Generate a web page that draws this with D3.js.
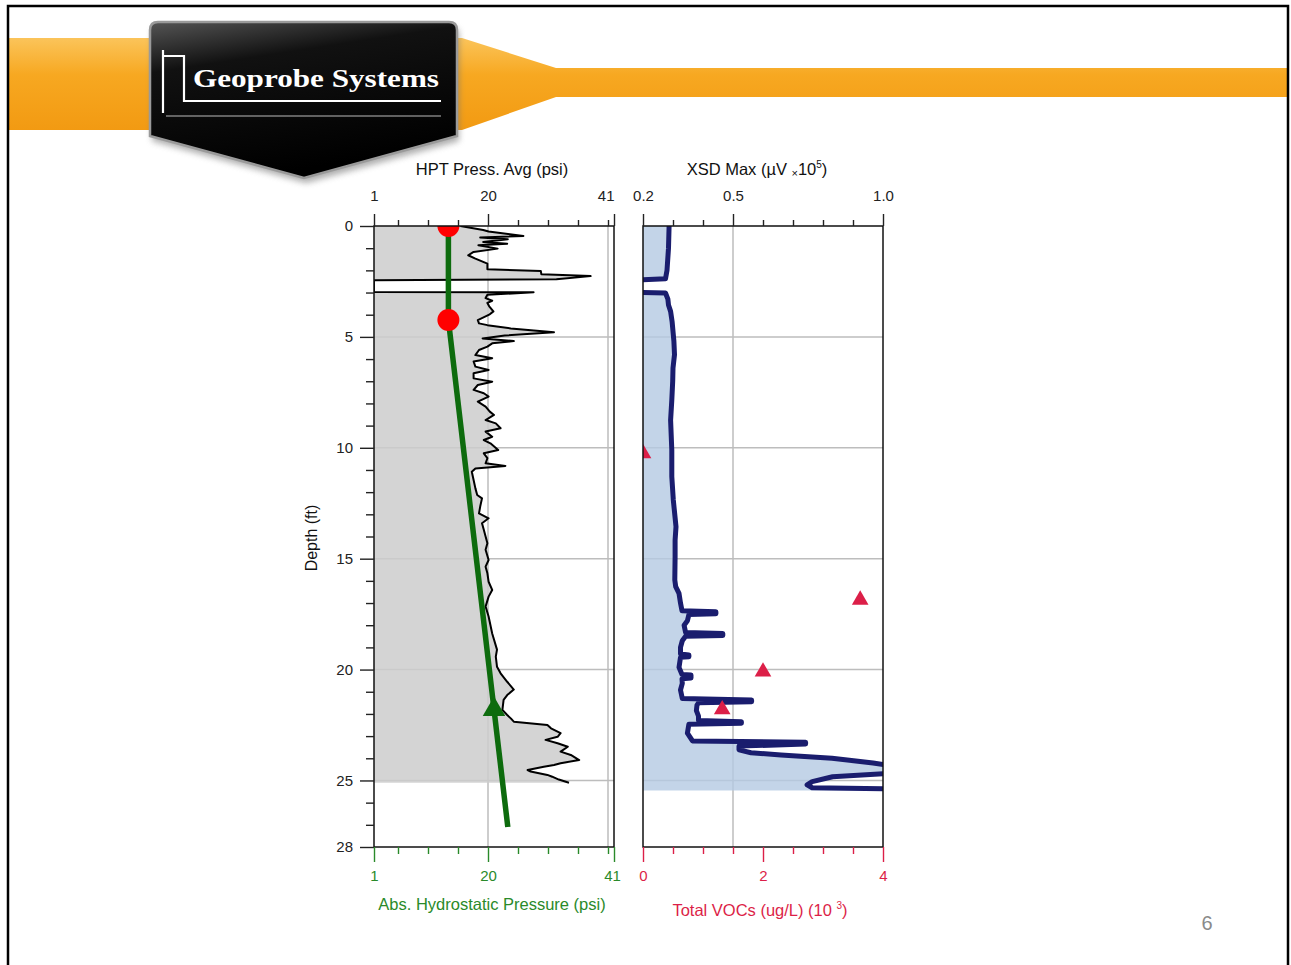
<!DOCTYPE html>
<html>
<head>
<meta charset="utf-8">
<script src="https://cdn.jsdelivr.net/npm/d3@7/dist/d3.min.js"></script>
<style>
  body { margin: 0; background: #fff; }
  svg { display: block; font-family: "Liberation Sans", Arial, sans-serif; }
</style>
</head>
<body>
<svg></svg>
<script>
/*
 */
// HPT pressure log (depth ft, psi); value 1 = no data
const HPT_DEPTH = [0, 0.18, 0.25, 0.45, 0.52, 0.60, 0.72, 0.80, 0.87, 1.02,
  1.17, 1.32, 1.47, 1.70, 1.95, 2.03, 2.18, 2.26, 2.40, 2.45,
  2.98, 2.99, 3.10, 3.25, 3.37, 3.47, 3.62, 3.85, 4.00, 4.24,
  4.39, 4.47, 4.62, 4.79, 4.94, 5.07, 5.19, 5.29, 5.44, 5.59,
  5.82, 5.96, 6.11, 6.34, 6.49, 6.64, 6.87, 7.02, 7.17, 7.39,
  7.54, 7.69, 7.92, 8.14, 8.37, 8.52, 8.75, 8.90, 9.12, 9.27,
  9.50, 9.65, 9.80, 10.10, 10.25, 10.47, 10.70, 10.82, 10.93, 11.08,
  11.45, 11.83, 12.13, 12.28, 12.65, 12.96, 13.18, 13.40, 13.70, 14.00,
  14.30, 14.60, 15.06, 15.36, 15.66, 16.04, 16.41, 16.71, 17.16, 17.61,
  18.37, 19.10, 19.42, 19.87, 20.17, 20.55, 20.90, 21.15, 21.37, 21.82,
  22.05, 22.20, 22.35, 22.50, 22.65, 22.87, 23.03, 23.17, 23.32, 23.48,
  23.70, 23.85, 24.08, 24.22, 24.30, 24.38, 24.53, 24.60, 24.75, 24.83,
  24.96, 25.10];
const HPT_PRESS = [15.4, 19.2, 20.1, 25.9, 18.7, 23.3, 19.2, 23.2, 18.4, 21.6,
  17.6, 16.7, 17.9, 19.9, 19.9, 28.8, 28.9, 37.1, 31.4, 1,
  1, 27.6, 19.9, 19.6, 20.7, 19.9, 20.2, 20.9, 20.2, 18.3,
  18.5, 19.9, 23.8, 31.0, 22.8, 19.1, 24.3, 20.7, 19.9, 18.5,
  17.9, 20.7, 17.6, 17.9, 20.1, 17.6, 17.6, 20.7, 18.3, 17.6,
  19.3, 20.1, 18.3, 19.6, 20.3, 21.0, 19.6, 21.3, 22.1, 19.6,
  20.7, 19.3, 20.4, 21.7, 19.3, 19.9, 19.6, 22.9, 17.9, 17.3,
  17.6, 17.9, 18.2, 19.0, 18.7, 18.5, 20.1, 19.0, 19.3, 19.6,
  19.9, 19.6, 20.1, 19.6, 19.9, 20.1, 20.7, 20.1, 19.6, 20.1,
  20.7, 21.5, 21.3, 21.5, 22.1, 23.2, 24.3, 23.2, 22.6, 22.4,
  23.2, 23.8, 24.3, 29.9, 30.5, 32.1, 31.6, 29.6, 31.6, 33.3,
  32.1, 33.8, 35.2, 32.1, 31.0, 29.3, 26.6, 27.1, 29.9, 30.7,
  31.8, 33.5];

// Absolute hydrostatic pressure line (psi)
const HYDRO_DEPTH = [0, 4.24, 27.1];
const HYDRO_PRESS = [13.4, 13.4, 23.3];
const WATER_DOTS_DEPTH = [0, 4.24];
const WATER_DOTS_PRESS = [13.4, 13.4];
const DISS_DEPTH = [21.8];
const DISS_PRESS = [21.0];

// XSD max (uV x 10^5)
const XSD_DEPTH = [0, 1.0, 2.0, 2.38, 2.43, 3.00, 3.02, 3.30, 3.56, 3.85,
  4.31, 5.20, 5.80, 6.40, 7.00, 7.85, 8.75, 10.10, 11.30, 12.35,
  13.56, 14.16, 14.90, 15.96, 16.26, 16.56, 17.00, 17.35, 17.39, 17.48,
  17.52, 17.80, 18.00, 18.33, 18.37, 18.46, 18.50, 18.70, 19.00, 19.30,
  19.34, 19.42, 19.45, 19.90, 20.22, 20.25, 20.38, 20.42, 20.62, 20.92,
  21.30, 21.37, 21.45, 21.50, 21.60, 21.85, 22.10, 22.30, 22.35, 22.42,
  22.46, 22.87, 23.22, 23.28, 23.36, 23.45, 23.62, 23.75, 23.85, 24.00,
  24.21, 24.38, 24.68, 24.83, 25.05, 25.20, 25.33, 25.38, 25.45];
const XSD_VALUE = [0.287, 0.285, 0.280, 0.275, 0.19, 0.19, 0.275, 0.283, 0.285, 0.292,
  0.297, 0.303, 0.305, 0.300, 0.299, 0.296, 0.292, 0.296, 0.296, 0.301,
  0.310, 0.307, 0.307, 0.306, 0.309, 0.320, 0.325, 0.330, 0.443, 0.443,
  0.353, 0.348, 0.337, 0.342, 0.466, 0.466, 0.342, 0.331, 0.325, 0.325,
  0.353, 0.353, 0.325, 0.320, 0.330, 0.360, 0.360, 0.330, 0.331, 0.325,
  0.331, 0.562, 0.562, 0.385, 0.380, 0.378, 0.385, 0.385, 0.528, 0.528,
  0.353, 0.348, 0.365, 0.742, 0.742, 0.520, 0.520, 0.560, 0.660, 0.830,
  0.967, 1.05, 1.02, 0.832, 0.764, 0.747, 0.764, 1.05, 1.05];

// Total VOC lab samples (ug/L x 10^3)
const VOC_DEPTH = [10.25, 16.86, 20.1, 21.8];
const VOC_VALUE = [0.0, 3.62, 2.0, 1.32];

// Axis ticks
const DEPTH_MAJOR = [0, 5, 10, 15, 20, 25, 28];
const PRESS_MAJOR = [1, 20, 41];
const PRESS_MINOR = [5, 10, 15, 25, 30, 35, 40];
const XSD_MAJOR = [0.2, 0.5, 1.0];
const XSD_MINOR = [0.3, 0.4, 0.6, 0.7, 0.8, 0.9];
const VOC_MAJOR = [0, 2, 4];
const VOC_MINOR = [0.5, 1, 1.5, 2.5, 3, 3.5];

/*
 * Layout constants
 */
const W = 1291;
const H = 965;
const PLOT_TOP = 226;
const PLOT_BOTTOM = 847;
const LEFT_X0 = 374;
const LEFT_X1 = 614;
const RIGHT_X0 = 643;
const RIGHT_X1 = 883;
const GREEN = "#0d6b0d";
const GREEN_TEXT = "#2a8a2a";
const VOC_RED = "#dc1f48";
const GRID = "#bdbdbd";
const TICK_FONT = 15;
const TITLE_FONT = 16.5;

const svg = d3.select("svg").attr("width", W).attr("height", H);
svg.selectAll("*").remove();
const defs = svg.append("defs");

const depthScale = d3.scaleLinear().domain([0, 28]).range([PLOT_TOP, PLOT_BOTTOM]);
const pressScale = d3.scaleLinear().domain([1, 41]).range([LEFT_X0, LEFT_X1]);
const xsdScale = d3.scaleLinear().domain([0.2, 1.0]).range([RIGHT_X0, RIGHT_X1]);
const vocScale = d3.scaleLinear().domain([0, 4]).range([RIGHT_X0, RIGHT_X1]);

/*
 * Slide background: frame, orange band, logo
 */
function drawSlide() {
  const band = defs.append("linearGradient").attr("id", "band")
    .attr("gradientUnits", "userSpaceOnUse")
    .attr("x1", 0).attr("y1", 38).attr("x2", 0).attr("y2", 130);
  band.append("stop").attr("offset", "0%").attr("stop-color", "#fbc45a");
  band.append("stop").attr("offset", "40%").attr("stop-color", "#f7a821");
  band.append("stop").attr("offset", "100%").attr("stop-color", "#f29a12");

  svg.append("path")
    .attr("d", "M8,38 L462,38 L556,68 L1289,68 L1289,97 L556,97 L462,130 L8,130 Z")
    .attr("fill", "url(#band)");

  // shield
  const shield = defs.append("linearGradient").attr("id", "shield")
    .attr("x1", 0).attr("y1", 0).attr("x2", 0.3).attr("y2", 1);
  shield.append("stop").attr("offset", "0%").attr("stop-color", "#555");
  shield.append("stop").attr("offset", "30%").attr("stop-color", "#111");
  shield.append("stop").attr("offset", "100%").attr("stop-color", "#000");

  const blur = defs.append("filter").attr("id", "shadow")
    .attr("x", "-10%").attr("y", "-10%").attr("width", "130%").attr("height", "130%");
  blur.append("feGaussianBlur").attr("stdDeviation", 3);

  const shieldPath = "M150,30 Q150,22 158,22 L449,22 Q457,22 457,30 L457,136 L304,178 L150,136 Z";
  svg.append("path")
    .attr("d", shieldPath)
    .attr("transform", "translate(2,5)")
    .attr("fill", "#777")
    .attr("opacity", 0.6)
    .attr("filter", "url(#shadow)");
  svg.append("path")
    .attr("d", shieldPath)
    .attr("fill", "url(#shield)")
    .attr("stroke", "#9a9a9a")
    .attr("stroke-width", 2.5);

  // logo mark + underline
  svg.append("path")
    .attr("d", "M163,113 L163,50 M163,56 L184,56 L184,101 L441,101")
    .attr("fill", "none")
    .attr("stroke", "#fff")
    .attr("stroke-width", 2.2);
  svg.append("path")
    .attr("d", "M166,116 L441,116")
    .attr("stroke", "#bbb")
    .attr("stroke-width", 1.2);

  svg.append("text")
    .attr("x", 193)
    .attr("y", 87)
    .attr("font-family", "'Liberation Serif', 'DejaVu Serif', serif")
    .attr("font-weight", "bold")
    .attr("font-size", 25)
    .attr("fill", "#fff")
    .attr("textLength", 246)
    .attr("lengthAdjust", "spacingAndGlyphs")
    .text("Geoprobe Systems");

  // page frame
  svg.append("rect")
    .attr("x", 8).attr("y", 6)
    .attr("width", 1280).attr("height", 1000)
    .attr("fill", "none")
    .attr("stroke", "#000")
    .attr("stroke-width", 2.5);

  // page number
  svg.append("text")
    .attr("x", 1207).attr("y", 930)
    .attr("text-anchor", "middle")
    .attr("font-size", 20)
    .attr("fill", "#8a8a8a")
    .text("6");
}

function clipFor(id, x0, x1) {
  defs.append("clipPath").attr("id", id)
    .append("rect")
    .attr("x", x0).attr("y", PLOT_TOP)
    .attr("width", x1 - x0).attr("height", PLOT_BOTTOM - PLOT_TOP);
  return `url(#${id})`;
}

function drawGrid(g, xs, x0, x1) {
  [5, 10, 15, 20, 25].forEach(d => {
    g.append("line")
      .attr("x1", x0).attr("x2", x1)
      .attr("y1", depthScale(d)).attr("y2", depthScale(d))
      .attr("stroke", GRID).attr("stroke-width", 1.5);
  });
  xs.forEach(x => {
    g.append("line")
      .attr("x1", x).attr("x2", x)
      .attr("y1", PLOT_TOP).attr("y2", PLOT_BOTTOM)
      .attr("stroke", GRID).attr("stroke-width", 1.5);
  });
}

function frame(x0, x1) {
  svg.append("rect")
    .attr("x", x0).attr("y", PLOT_TOP)
    .attr("width", x1 - x0).attr("height", PLOT_BOTTOM - PLOT_TOP)
    .attr("fill", "none")
    .attr("stroke", "#111")
    .attr("stroke-width", 1.5);
}

// axis helper: major (labelled) + minor ticks
function styledAxis(axisFn, scale, translate, major, minor, majorSize, minorSize, pad, color, fmt) {
  const gMinor = svg.append("g").attr("transform", translate)
    .call(axisFn(scale).tickValues(minor).tickSize(minorSize).tickFormat(""));
  const gMajor = svg.append("g").attr("transform", translate)
    .call(axisFn(scale).tickValues(major).tickSize(majorSize).tickPadding(pad).tickFormat(fmt));
  [gMinor, gMajor].forEach(g => {
    g.select(".domain").remove();
    g.selectAll(".tick line").attr("stroke", color).attr("stroke-width", 1.4);
    g.selectAll(".tick text")
      .attr("fill", color)
      .attr("font-size", TICK_FONT)
      .attr("font-family", "'Liberation Sans', Arial, sans-serif");
  });
  return gMajor;
}

/*
 * Left panel: HPT pressure + hydrostatic
 */
function drawLeftPanel() {
  const clip = clipFor("clipL", LEFT_X0, LEFT_X1);
  const g = svg.append("g");
  drawGrid(g, [pressScale(20), pressScale(40)], LEFT_X0, LEFT_X1);

  const pts = HPT_DEPTH.map((d, i) => ({ d: d, p: HPT_PRESS[i] }));

  const area = d3.area()
    .y(v => depthScale(v.d))
    .x0(pressScale(1))
    .x1(v => pressScale(v.p));
  svg.append("path")
    .datum(pts)
    .attr("clip-path", clip)
    .attr("d", area)
    .attr("fill", "#cccccc")
    .attr("fill-opacity", 0.85);

  const line = d3.line()
    .x(v => pressScale(v.p))
    .y(v => depthScale(v.d));
  svg.append("path")
    .datum(pts)
    .attr("clip-path", clip)
    .attr("d", line)
    .attr("fill", "none")
    .attr("stroke", "#000")
    .attr("stroke-width", 2)
    .attr("stroke-linejoin", "round");

  // hydrostatic line
  const hydro = HYDRO_DEPTH.map((d, i) => ({ d: d, p: HYDRO_PRESS[i] }));
  svg.append("path")
    .datum(hydro)
    .attr("clip-path", clip)
    .attr("d", line)
    .attr("fill", "none")
    .attr("stroke", GREEN)
    .attr("stroke-width", 5.5);

  svg.append("g").attr("clip-path", clip)
    .selectAll("circle")
    .data(WATER_DOTS_DEPTH)
    .join("circle")
    .attr("cx", (d, i) => pressScale(WATER_DOTS_PRESS[i]))
    .attr("cy", d => depthScale(d))
    .attr("r", 11)
    .attr("fill", "#ff0000");

  svg.append("g")
    .selectAll("path")
    .data(DISS_DEPTH)
    .join("path")
    .attr("transform", (d, i) => `translate(${pressScale(DISS_PRESS[i])},${depthScale(d)})`)
    .attr("d", d3.symbol(d3.symbolTriangle, 220))
    .attr("fill", GREEN);

  frame(LEFT_X0, LEFT_X1);

  // depth axis
  const depthMinor = d3.range(0, 29).filter(d => !DEPTH_MAJOR.includes(d));
  styledAxis(d3.axisLeft, depthScale, `translate(${LEFT_X0},0)`,
    DEPTH_MAJOR, depthMinor, 14, 8, 7, "#222", d3.format("d"));

  // top axis
  const top = styledAxis(d3.axisTop, pressScale, `translate(0,${PLOT_TOP})`,
    PRESS_MAJOR, PRESS_MINOR, 12, 6, 13, "#222", d3.format("d"));
  top.selectAll(".tick text").filter(d => d === 41)
    .attr("text-anchor", "end").attr("x", 0);

  // bottom axis
  const bot = styledAxis(d3.axisBottom, pressScale, `translate(0,${PLOT_BOTTOM})`,
    PRESS_MAJOR, PRESS_MINOR, 15, 7, 8, GREEN_TEXT, d3.format("d"));
  bot.selectAll(".tick text").filter(d => d === 41).attr("x", -2);

  svg.append("text")
    .attr("x", 492).attr("y", 175)
    .attr("text-anchor", "middle")
    .attr("font-size", TITLE_FONT)
    .attr("fill", "#111")
    .text("HPT Press. Avg (psi)");

  svg.append("text")
    .attr("x", 492).attr("y", 910)
    .attr("text-anchor", "middle")
    .attr("font-size", TITLE_FONT)
    .attr("fill", GREEN_TEXT)
    .text("Abs. Hydrostatic Pressure (psi)");

  svg.append("text")
    .attr("transform", "translate(317,538) rotate(-90)")
    .attr("text-anchor", "middle")
    .attr("font-size", TICK_FONT + 1)
    .attr("fill", "#111")
    .text("Depth (ft)");
}

/*
 * Right panel: XSD + VOC samples
 */
function drawRightPanel() {
  const clip = clipFor("clipR", RIGHT_X0, RIGHT_X1);
  const g = svg.append("g");
  drawGrid(g, [xsdScale(0.5)], RIGHT_X0, RIGHT_X1);

  const pts = XSD_DEPTH.map((d, i) => ({ d: d, v: XSD_VALUE[i] }));

  const area = d3.area()
    .y(v => depthScale(v.d))
    .x0(xsdScale(0.2))
    .x1(v => xsdScale(v.v));
  svg.append("path")
    .datum(pts)
    .attr("clip-path", clip)
    .attr("d", area)
    .attr("fill", "rgb(180,201,226)")
    .attr("fill-opacity", 0.8);

  const line = d3.line()
    .x(v => xsdScale(v.v))
    .y(v => depthScale(v.d));
  svg.append("path")
    .datum(pts)
    .attr("clip-path", clip)
    .attr("d", line)
    .attr("fill", "none")
    .attr("stroke", "#1a1d6e")
    .attr("stroke-width", 5)
    .attr("stroke-linejoin", "round");

  svg.append("g").attr("clip-path", clip)
    .selectAll("path")
    .data(VOC_DEPTH)
    .join("path")
    .attr("transform", (d, i) => `translate(${vocScale(VOC_VALUE[i])},${depthScale(d)})`)
    .attr("d", d3.symbol(d3.symbolTriangle, 120))
    .attr("fill", VOC_RED);

  frame(RIGHT_X0, RIGHT_X1);

  styledAxis(d3.axisTop, xsdScale, `translate(0,${PLOT_TOP})`,
    XSD_MAJOR, XSD_MINOR, 12, 6, 13, "#222", d3.format(".1f"));

  styledAxis(d3.axisBottom, vocScale, `translate(0,${PLOT_BOTTOM})`,
    VOC_MAJOR, VOC_MINOR, 15, 7, 8, VOC_RED, d3.format("d"));

  const t = svg.append("text")
    .attr("x", 757).attr("y", 175)
    .attr("text-anchor", "middle")
    .attr("font-size", TITLE_FONT)
    .attr("fill", "#111");
  t.append("tspan").text("XSD Max (\u00b5V ");
  t.append("tspan").attr("font-size", 11).attr("dy", 2).text("\u00d7");
  t.append("tspan").attr("dy", -2).text("10");
  t.append("tspan").attr("font-size", 10).attr("dy", -7).text("5");
  t.append("tspan").attr("dy", 7).text(")");

  const b = svg.append("text")
    .attr("x", 760).attr("y", 916)
    .attr("text-anchor", "middle")
    .attr("font-size", TITLE_FONT)
    .attr("fill", VOC_RED);
  b.append("tspan").text("Total VOCs (ug/L) (10 ");
  b.append("tspan").attr("font-size", 10).attr("dy", -7).text("3");
  b.append("tspan").attr("dy", 7).text(")");
}

drawSlide();
drawLeftPanel();
drawRightPanel();
</script>
</body>
</html>
